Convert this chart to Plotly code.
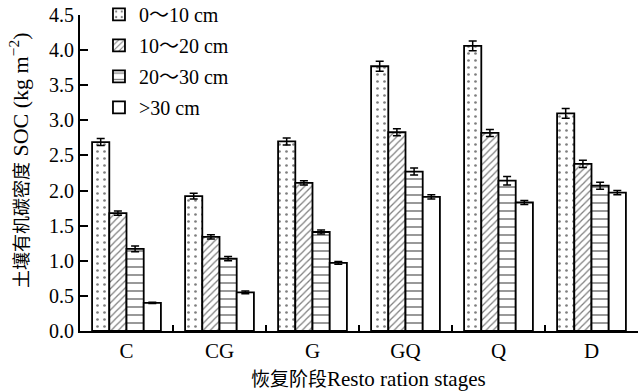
import plotly.graph_objects as go

stages = ["C", "CG", "G", "GQ", "Q", "D"]
series_names = ["0～10 cm", "10～20 cm", "20～30 cm", ">30 cm"]
soc_0_10 = [2.69, 1.92, 2.70, 3.77, 4.06, 3.10]
soc_10_20 = [1.68, 1.34, 2.11, 2.83, 2.82, 2.38]
soc_20_30 = [1.17, 1.03, 1.41, 2.27, 2.14, 2.07]
soc_30 = [0.40, 0.55, 0.97, 1.91, 1.83, 1.97]
err_0_10 = [0.05, 0.04, 0.05, 0.07, 0.07, 0.07]
err_10_20 = [0.03, 0.03, 0.03, 0.05, 0.05, 0.05]
err_20_30 = [0.04, 0.03, 0.03, 0.05, 0.06, 0.05]
err_30 = [0.01, 0.02, 0.02, 0.03, 0.03, 0.03]

x_title = "<span style='font-family:Noto Sans CJK SC;font-size:19px'>恢复阶段</span>Resto ration stages"
y_title = "<span style='font-family:Noto Sans CJK SC;font-size:18px'>土壤有机碳密度</span> SOC (kg m<sup>−2</sup>)"

values = [soc_0_10, soc_10_20, soc_20_30, soc_30]
errors = [err_0_10, err_10_20, err_20_30, err_30]
patterns = [
    dict(shape=".", size=7, solidity=0.12, fgcolor="black", bgcolor="white"),
    dict(shape="/", size=5, solidity=0.25, fgcolor="black", bgcolor="white"),
    dict(shape="-", size=8, solidity=0.2, fgcolor="black", bgcolor="white"),
    dict(shape="", fgcolor="black", bgcolor="white"),
]

serif = "Liberation Serif, Times New Roman, Noto Sans CJK SC, serif"

fig = go.Figure()
for name, vals, errs, pat in zip(series_names, values, errors, patterns):
    fig.add_trace(go.Bar(
        x=stages, y=vals, name=name,
        marker=dict(color="white", line=dict(color="black", width=1.8), pattern=pat),
        error_y=dict(type="data", array=errs, color="black", thickness=1.5, width=4),
        legendgroup=name,
    ))

fig.update_layout(
    width=640, height=392,
    margin=dict(l=80, r=2, t=15, b=61, autoexpand=False),
    paper_bgcolor="white", plot_bgcolor="white",
    barmode="group", bargap=0.26, bargroupgap=0,
    font=dict(family=serif, size=20, color="black"),
    showlegend=True,
    legend=dict(x=0.034, y=1.064, xanchor="left", yanchor="top",
                font=dict(family=serif, size=20), tracegroupgap=2,
                bgcolor="rgba(0,0,0,0)"),
    xaxis=dict(
        showline=True, linecolor="black", linewidth=2, automargin=False,
        ticks="inside", tickson="boundaries", ticklen=6, tickwidth=1.5, tickcolor="black",
        tickfont=dict(size=21),
    ),
    yaxis=dict(
        range=[0, 4.5], dtick=0.5, tickformat=".1f", automargin=False,
        showline=True, linecolor="black", linewidth=2,
        ticks="inside", ticklen=8, tickwidth=1.5, tickcolor="black",
        showgrid=False, zeroline=False,
        tickfont=dict(size=20),
    ),
    annotations=[
        dict(text=x_title, xref="paper", yref="paper", x=(369 - 80) / 558, y=-(378 - 331) / 316,
             xanchor="center", yanchor="middle", showarrow=False, font=dict(size=21)),
        dict(text=y_title, xref="paper", yref="paper", x=-(80 - 19) / 558, y=(331 - 161) / 316,
             xanchor="center", yanchor="middle", showarrow=False, textangle=-90, font=dict(size=22)),
    ],
)

fig.write_html("out.html", config={"displayModeBar": False},
               post_script="document.body.style.margin='0px';document.body.style.overflow='hidden';")
